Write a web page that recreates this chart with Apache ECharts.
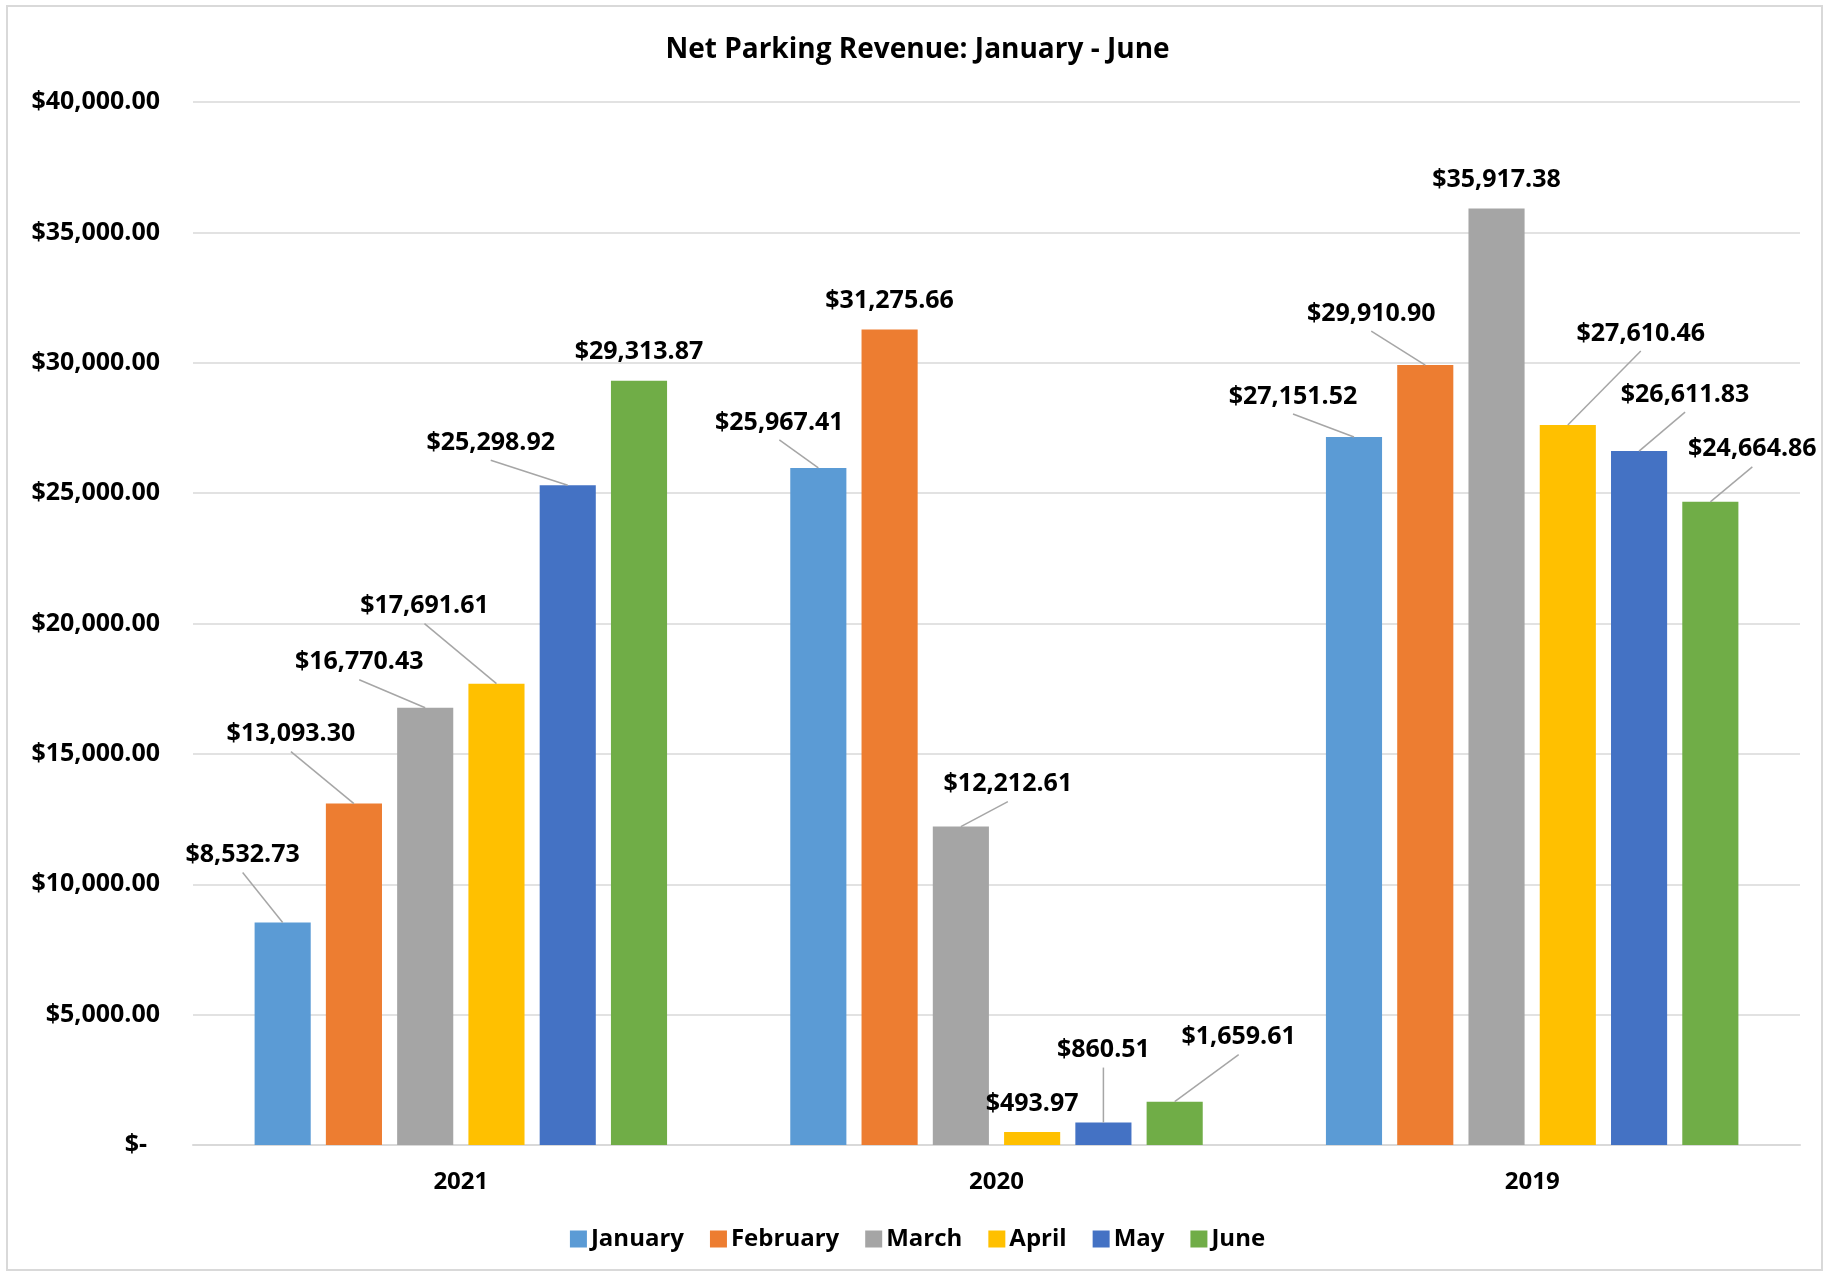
<!DOCTYPE html>
<html>
<head>
<meta charset="utf-8">
<script src="https://cdn.jsdelivr.net/npm/echarts@6/dist/echarts.min.js"></script>
<style>
html,body{margin:0;padding:0;background:#fff;}
#c{width:1835px;height:1275px;}
</style>
</head>
<body>
<div id="c"></div>
<script>
const categories = ['2021', '2020', '2019'];
const seriesNames = ['January', 'February', 'March', 'April', 'May', 'June'];
const january  = [8532.73, 25967.41, 27151.52];
const february = [13093.30, 31275.66, 29910.90];
const march    = [16770.43, 12212.61, 35917.38];
const april    = [17691.61, 493.97, 27610.46];
const may      = [25298.92, 860.51, 26611.83];
const june     = [29313.87, 1659.61, 24664.86];
const yTicks = [0, 5000, 10000, 15000, 20000, 25000, 30000, 35000, 40000];

const colors = ['#5b9bd5', '#ed7d31', '#a5a5a5', '#ffc000', '#4472c4', '#70ad47'];
// label displacement (px) per series, per category: [dx, dy]; null = default position
const labelShift = [
  [[-40, -39], [-39, -17], [-61, -12]],
  [[-63, -41], null, [-54, -23]],
  [[-66, -17], [47, -14], null],
  [[-72, -49], null, [73, -63]],
  [[-77, -14], [0, -44], [46, -28]],
  [null, [64, -36], [42, -24]]
];

const FONT = "'Open Sans', sans-serif";
const allValues = [january, february, march, april, may, june];

function money(v) {
  if (v === 0) return '$-  ';
  return '$' + v.toLocaleString('en-US', {minimumFractionDigits: 2, maximumFractionDigits: 2});
}

// leader lines: from label bottom-centre to bar top-centre, both taken from the library's layout
const leaders = {};

const series = allValues.map((vals, s) => ({
  name: seriesNames[s],
  type: 'bar',
  barGap: '27%',
  barCategoryGap: '23%',
  itemStyle: {color: colors[s]},
  data: vals,
  label: {
    show: true,
    position: 'top',
    distance: 16,
    fontFamily: FONT,
    fontWeight: 'bold',
    fontSize: 25,
    color: '#000',
    formatter: p => money(p.value)
  },
  labelLayout: function (params) {
    const o = labelShift[params.seriesIndex][params.dataIndex];
    if (!o) return {};
    const r = params.rect, l = params.labelRect;
    leaders[params.seriesIndex + '_' + params.dataIndex] = [
      [l.x + l.width / 2 + o[0], l.y + l.height + o[1] + 5],
      [r.x + r.width / 2, r.y]
    ];
    return {dx: o[0], dy: o[1]};
  }
}));

const border = {
  id: 'frame',
  type: 'rect',
  shape: {x: 7, y: 6, width: 1815, height: 1264},
  style: {fill: 'none', stroke: '#d9d9d9', lineWidth: 2},
  silent: true
};

const chart = echarts.init(document.getElementById('c'), null, {renderer: 'canvas'});
chart.setOption({
  backgroundColor: '#fff',
  animation: false,
  color: colors,
  title: {
    text: 'Net Parking Revenue: January - June',
    left: 'center',
    top: 31,
    textStyle: {fontFamily: FONT, fontWeight: 'bold', fontSize: 28, color: '#000'}
  },
  graphic: [border],
  legend: {
    data: seriesNames,
    bottom: 19,
    left: 'center',
    padding: [5, 5, 5, 21],
    itemWidth: 17,
    itemHeight: 17,
    itemGap: 26,
    icon: 'rect',
    textStyle: {fontFamily: FONT, fontWeight: 'bold', fontSize: 24, color: '#000', padding: [0, 0, 0, -1]}
  },
  grid: {left: 193, right: 35, top: 102, bottom: 130, containLabel: false},
  xAxis: {
    type: 'category',
    data: categories,
    axisLine: {lineStyle: {color: '#d9d9d9', width: 2}},
    axisTick: {show: false},
    axisLabel: {fontFamily: FONT, fontWeight: 'bold', fontSize: 24, color: '#000', margin: 25}
  },
  yAxis: {
    type: 'value',
    min: yTicks[0],
    max: yTicks[yTicks.length - 1],
    interval: yTicks[1] - yTicks[0],
    axisLine: {show: false},
    axisTick: {show: false},
    splitLine: {lineStyle: {color: '#d9d9d9', width: 1.5}},
    axisLabel: {
      fontFamily: FONT, fontWeight: 'bold', fontSize: 25, color: '#000', margin: 33,
      formatter: v => money(v)
    }
  },
  series: series
});

const lineEls = Object.keys(leaders).map(k => ({
  id: 'leader_' + k,
  type: 'polyline',
  z: 50,
  silent: true,
  shape: {points: leaders[k]},
  style: {stroke: '#a6a6a6', lineWidth: 1.5, fill: 'none'}
}));
chart.setOption({graphic: [border].concat(lineEls)});
</script>
</body>
</html>
